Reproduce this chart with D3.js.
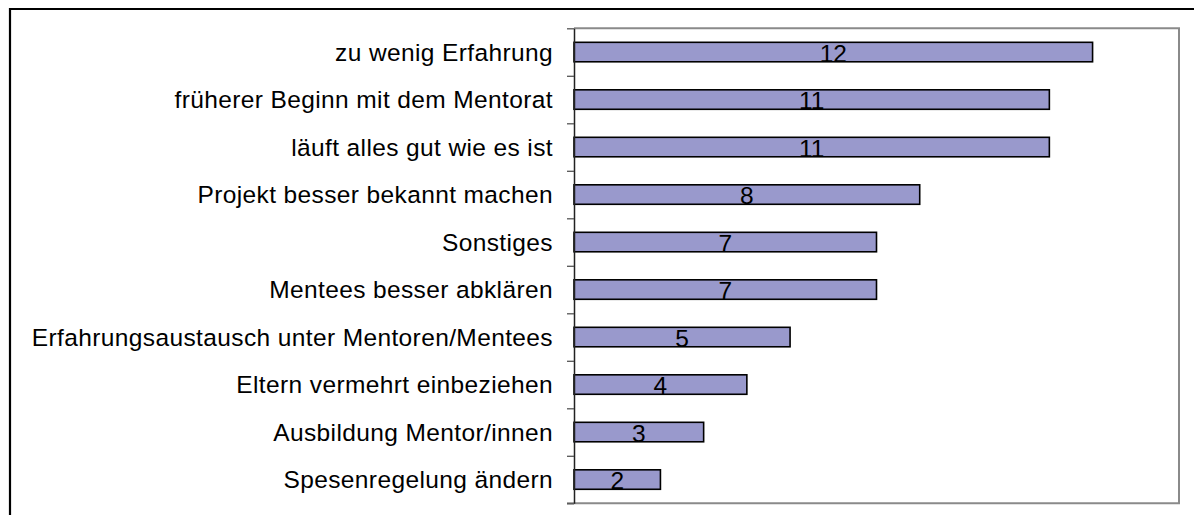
<!DOCTYPE html>
<html>
<head>
<meta charset="utf-8">
<script src="https://cdn.jsdelivr.net/npm/d3@7"></script>
<style>
  html, body { margin: 0; padding: 0; background: #fff; overflow: hidden; }
  svg { display: block; }
  text { font-family: "Liberation Sans", Arial, sans-serif; }
</style>
</head>
<body>
<svg id="chart" width="1194" height="515"></svg>
<script>
const categories = [
  "zu wenig Erfahrung",
  "früherer Beginn mit dem Mentorat",
  "läuft alles gut wie es ist",
  "Projekt besser bekannt machen",
  "Sonstiges",
  "Mentees besser abklären",
  "Erfahrungsaustausch unter Mentoren/Mentees",
  "Eltern vermehrt einbeziehen",
  "Ausbildung Mentor/innen",
  "Spesenregelung ändern"
];
const values = [12, 11, 11, 8, 7, 7, 5, 4, 3, 2];
const xDomain = [0, 14];

const svg = d3.select("#chart");
const W = 1194, H = 515;
svg.append("rect").attr("width", W).attr("height", H).attr("fill", "#fff");

// outer chart frame (only top and left edges visible in viewport)
svg.append("path")
  .attr("d", `M10,${H + 5} L10,9 L${W + 5},9`)
  .attr("fill", "none").attr("stroke", "#000").attr("stroke-width", 2.2);

const plot = { left: 574, right: 1179, top: 28.3, bottom: 503.3 };

const x = d3.scaleLinear().domain(xDomain).range([plot.left, plot.right]);
const y = d3.scaleBand().domain(categories)
  .range([plot.top, plot.bottom])
  .paddingInner(0.59).paddingOuter(0.295);
const yTicks = d3.scaleLinear().domain([0, categories.length]).range([plot.top, plot.bottom]);

// plot area border (top, right, bottom)
svg.append("path")
  .attr("d", `M${plot.left},${plot.top} L${plot.right},${plot.top} L${plot.right},${plot.bottom} L${plot.left - 7},${plot.bottom}`)
  .attr("fill", "none").attr("stroke", "#8a8a8a").attr("stroke-width", 2);

// bars
svg.append("g").selectAll("rect").data(categories).join("rect")
  .attr("x", x(0))
  .attr("y", d => y(d))
  .attr("width", (d, i) => x(values[i]) - x(0))
  .attr("height", y.bandwidth())
  .attr("fill", "#9999cc")
  .attr("stroke", "#000")
  .attr("stroke-width", 1.6);

// left axis with ticks between categories
const axisG = svg.append("g").attr("transform", `translate(${plot.left},0)`)
  .call(d3.axisLeft(yTicks).ticks(categories.length).tickSize(7).tickSizeOuter(0).tickFormat(""));
axisG.select(".domain").attr("stroke", "#222").attr("stroke-width", 1.5);
axisG.selectAll(".tick line").attr("stroke", "#555").attr("stroke-width", 1.3);

// category labels
svg.append("g").selectAll("text").data(categories).join("text")
  .attr("x", 553)
  .attr("y", d => y(d) + y.bandwidth() / 2)
  .attr("text-anchor", "end")
  .attr("dominant-baseline", "central")
  .attr("font-size", 24.5)
  .attr("letter-spacing", 0.38)
  .attr("fill", "#000")
  .text(d => d);

// value labels
svg.append("g").selectAll("text").data(categories).join("text")
  .attr("x", (d, i) => (x(0) + x(values[i])) / 2)
  .attr("y", d => y(d) + y.bandwidth() / 2 + 1)
  .attr("text-anchor", "middle")
  .attr("dominant-baseline", "central")
  .attr("font-size", 24.5)
  .attr("fill", "#000")
  .text((d, i) => values[i]);
</script>
</body>
</html>
